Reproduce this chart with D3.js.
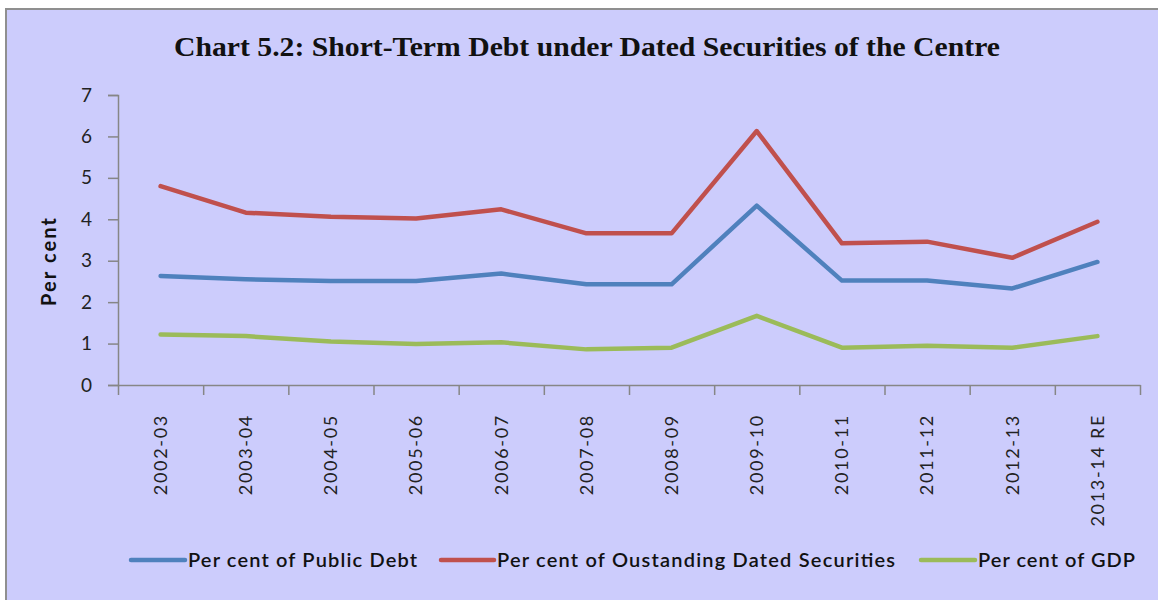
<!DOCTYPE html>
<html>
<head>
<meta charset="utf-8">
<script src="https://cdn.jsdelivr.net/npm/d3@7"></script>
<style>
  html, body { margin: 0; padding: 0; background: #ffffff; }
  svg { display: block; }
</style>
</head>
<body>
<svg id="chart" width="1158" height="600"></svg>
<script>
// Financial years on the category axis
const years = ["2002-03", "2003-04", "2004-05", "2005-06", "2006-07", "2007-08",
               "2008-09", "2009-10", "2010-11", "2011-12", "2012-13", "2013-14 RE"];

// Short-term debt under dated securities, per cent
const pctPublicDebt      = [2.63, 2.55, 2.51, 2.51, 2.69, 2.43, 2.43, 4.33, 2.52, 2.52, 2.33, 2.97];
const pctDatedSecurities = [4.80, 4.16, 4.06, 4.02, 4.24, 3.66, 3.66, 6.13, 3.42, 3.46, 3.07, 3.94];
const pctGDP             = [1.22, 1.18, 1.05, 0.99, 1.03, 0.86, 0.90, 1.67, 0.90, 0.95, 0.90, 1.18];

const yTicks = [0, 1, 2, 3, 4, 5, 6, 7];

const seriesNames = ["Per cent of Public Debt", "Per cent of Oustanding Dated Securities", "Per cent of GDP"];
const seriesColors = ["#4f81bd", "#c0504d", "#9bbb59"];
const seriesValues = [pctPublicDebt, pctDatedSecurities, pctGDP];

const svg = d3.select("#chart");
const axisColor = "#868686";
const labelFont = "Lato, 'Open Sans', sans-serif";

// Panel background with its frame
svg.append("rect")
  .attr("x", 6).attr("y", 9)
  .attr("width", 1170).attr("height", 610)
  .attr("fill", "#ccccfc")
  .attr("stroke", "#8f8f8f")
  .attr("stroke-width", 2);

// Title
svg.append("text")
  .attr("x", 587).attr("y", 56)
  .attr("text-anchor", "middle")
  .attr("font-family", "'Liberation Serif', 'Times New Roman', serif")
  .attr("font-weight", "bold")
  .attr("font-size", 27)
  .attr("fill", "#111")
  .attr("textLength", 826)
  .attr("lengthAdjust", "spacingAndGlyphs")
  .text("Chart 5.2: Short-Term Debt under Dated Securities of the Centre");

const plot = { left: 118, right: 1140, top: 95, bottom: 385 };

const x = d3.scaleBand().domain(years).range([plot.left, plot.right]);
const xEdge = d3.scaleLinear().domain([0, years.length]).range([plot.left, plot.right]);
const y = d3.scaleLinear().domain([0, 7]).range([plot.bottom, plot.top]);

// Y axis
const yAxis = svg.append("g")
  .attr("transform", `translate(${plot.left},0)`)
  .call(d3.axisLeft(y).tickValues(yTicks).tickFormat(d3.format("d"))
    .tickSize(10).tickSizeOuter(10).tickPadding(16));
yAxis.select(".domain").attr("stroke", axisColor).attr("stroke-width", 1.5);
yAxis.selectAll(".tick line").attr("stroke", axisColor).attr("stroke-width", 1.5);
yAxis.selectAll(".tick text")
  .attr("font-family", labelFont)
  .attr("font-size", 19)
  .attr("fill", "#222");

// X axis: tick marks at category boundaries
const xTicks = svg.append("g")
  .attr("transform", `translate(0,${plot.bottom})`)
  .call(d3.axisBottom(xEdge).tickValues(d3.range(years.length + 1)).tickFormat("").tickSize(10).tickSizeOuter(0));
xTicks.select(".domain").attr("stroke", axisColor).attr("stroke-width", 1.5);
xTicks.selectAll(".tick line").attr("stroke", axisColor).attr("stroke-width", 1.5);

// X axis: rotated category labels
const xLabels = svg.append("g")
  .attr("transform", `translate(0,${plot.bottom})`)
  .call(d3.axisBottom(x).tickSize(0).tickPadding(0));
xLabels.select(".domain").remove();
xLabels.selectAll(".tick text")
  .attr("font-family", labelFont)
  .attr("font-size", 18)
  .attr("letter-spacing", 1.7)
  .attr("fill", "#222")
  .attr("text-anchor", "end")
  .attr("dy", "0.35em")
  .attr("transform", "translate(0,29) rotate(-90)")
  .attr("x", 0).attr("y", 0);

// Y axis title
svg.append("text")
  .attr("transform", "translate(56,262) rotate(-90)")
  .attr("text-anchor", "middle")
  .attr("font-family", labelFont)
  .attr("font-weight", "bold")
  .attr("font-size", 20)
  .attr("fill", "#111")
  .attr("textLength", 88)
  .attr("lengthAdjust", "spacing")
  .text("Per cent");

// Series lines
const line = d3.line()
  .x((d, i) => x(years[i]) + x.bandwidth() / 2)
  .y(d => y(d));

seriesValues.forEach((vals, k) => {
  svg.append("path")
    .datum(vals)
    .attr("fill", "none")
    .attr("stroke", seriesColors[k])
    .attr("stroke-width", 4.5)
    .attr("stroke-linejoin", "round")
    .attr("stroke-linecap", "round")
    .attr("d", line);
});

// Legend
const legendItems = [
  { x0: 131, x1: 185, tx: 188, w: 229 },
  { x0: 441, x1: 494, tx: 497, w: 398 },
  { x0: 921, x1: 975, tx: 978, w: 157 }
];
const legend = svg.append("g");
legendItems.forEach((it, k) => {
  legend.append("line")
    .attr("x1", it.x0).attr("x2", it.x1)
    .attr("y1", 560).attr("y2", 560)
    .attr("stroke", seriesColors[k])
    .attr("stroke-width", 4.5)
    .attr("stroke-linecap", "round");
  legend.append("text")
    .attr("x", it.tx).attr("y", 560)
    .attr("dy", "0.35em")
    .attr("font-family", labelFont)
    .attr("font-weight", 600)
    .attr("font-size", 20)
    .attr("fill", "#111")
    .attr("textLength", it.w)
    .attr("lengthAdjust", "spacing")
    .text(seriesNames[k]);
});
</script>
</body>
</html>
